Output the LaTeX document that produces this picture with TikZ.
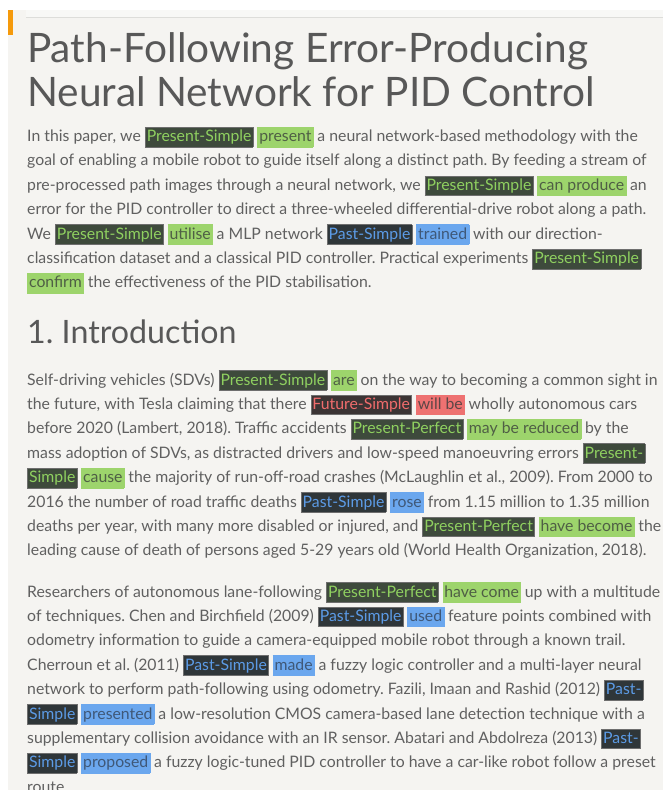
\documentclass[tikz,border=0pt]{standalone}
\usepackage{fontspec}
\setmainfont{Lato}
\frenchspacing
\definecolor{pagebg}{HTML}{F5F4F1}
\definecolor{stripbg}{HTML}{F8F8F6}
\definecolor{stripline}{HTML}{DDDDDA}
\definecolor{orangebar}{HTML}{F59A0C}
\definecolor{titlecol}{HTML}{585858}
\definecolor{bodycol}{HTML}{606060}
\definecolor{tagframe}{HTML}{6E6E6E}
\definecolor{tGfill}{HTML}{3E4A3C}
\definecolor{tGtext}{HTML}{8FD060}
\definecolor{vGfill}{HTML}{9DD46C}
\definecolor{vGtext}{HTML}{4F5F45}
\definecolor{tBfill}{HTML}{2F3639}
\definecolor{tBtext}{HTML}{5C9BE6}
\definecolor{vBfill}{HTML}{6BA7EE}
\definecolor{vBtext}{HTML}{3F5878}
\definecolor{tRfill}{HTML}{3B3434}
\definecolor{tRtext}{HTML}{F06C6C}
\definecolor{vRfill}{HTML}{EE7171}
\definecolor{vRtext}{HTML}{5E4646}
\newcommand\hlx[4]{{\setlength\fboxsep{1.2pt}\setlength\fboxrule{0.4pt}\fcolorbox{#1}{#2}{\kern0.3pt\textcolor{#3}{\rule[-3.8pt]{0pt}{17pt}#4}\kern0.3pt}}}
\newcommand\tg[1]{\hlx{tagframe}{tGfill}{tGtext}{#1}}
\newcommand\tb[1]{\hlx{tagframe}{tBfill}{tBtext}{#1}}
\newcommand\tr[1]{\hlx{tagframe}{tRfill}{tRtext}{#1}}
\newcommand\vg[1]{\hlx{vGfill}{vGfill}{vGtext}{#1}}
\newcommand\vb[1]{\hlx{vBfill}{vBfill}{vBtext}{#1}}
\newcommand\vr[1]{\hlx{vRfill}{vRfill}{vRtext}{#1}}
\tikzset{
  bodyline/.style={anchor=base west, inner sep=0pt, text=bodycol, font=\fontsize{15.8pt}{19pt}\selectfont},
  titleline/.style={anchor=base west, inner sep=0pt, text=titlecol, font=\fontsize{40.6pt}{48pt}\selectfont},
  headline/.style={anchor=base west, inner sep=0pt, text=titlecol, font=\fontsize{32.2pt}{38pt}\selectfont}
}
\begin{document}
\begin{tikzpicture}[x=1pt,y=-1pt]
\useasboundingbox (0,0) rectangle (663,790);
\clip (0,0) rectangle (663,790);
\fill[white] (0,0) rectangle (663,790);
\fill[pagebg] (8,10) rectangle (663,790);
\fill[stripbg] (26,10) rectangle (663,17);
\draw[stripline, line width=1pt] (26,17.5) -- (663,17.5);
\fill[orangebar] (8,10) rectangle (13,35);
\node[titleline] (t1) at (27,62) {Path-Following Error-Producing};
\node[titleline] (t2) at (27,106) {Neural Network for PID Control};
\node[bodyline] (a1) at (27,141.5) {In this paper, we \tg{Present-Simple} \vg{present} a neural network-based methodology with the};
\node[bodyline] (a2) at (27,165.9) {goal of enabling a mobile robot to guide itself along a distinct path. By feeding a stream of};
\node[bodyline] (a3) at (27,190.3) {pre-processed path images through a neural network, we \tg{Present-Simple} \vg{can produce} an};
\node[bodyline] (a4) at (27,214.7) {error for the PID controller to direct a three-wheeled differential-drive robot along a path.};
\node[bodyline] (a5) at (27,239.1) {We \tg{Present-Simple} \vg{utilise} a MLP network \tb{Past-Simple} \vb{trained} with our direction-};
\node[bodyline] (a6) at (27,263.5) {classification dataset and a classical PID controller. Practical experiments \tg{Present-Simple}};
\node[bodyline] (a7) at (27,287.9) {\vg{confirm} the effectiveness of the PID stabilisation.};
\node[headline] (h1) at (27,343) {1. Introduction};
\node[bodyline] (i1) at (27,385) {Self-driving vehicles (SDVs) \tg{Present-Simple} \vg{are} on the way to becoming a common sight in};
\node[bodyline] (i2) at (27,409.4) {the future, with Tesla claiming that there \tr{Future-Simple} \vr{will be} wholly autonomous cars};
\node[bodyline] (i3) at (27,433.8) {before 2020 (Lambert, 2018). Traffic accidents \tg{Present-Perfect} \vg{may be reduced} by the};
\node[bodyline] (i4) at (27,458.2) {mass adoption of SDVs, as distracted drivers and low-speed manoeuvring errors \tg{Present-}};
\node[bodyline] (i5) at (27,482.6) {\tg{Simple} \vg{cause} the majority of run-off-road crashes (McLaughlin et al., 2009). From 2000 to};
\node[bodyline] (i6) at (27,507) {2016 the number of road traffic deaths \tb{Past-Simple} \vb{rose} from 1.15 million to 1.35 million};
\node[bodyline] (i7) at (27,531.4) {deaths per year, with many more disabled or injured, and \tg{Present-Perfect} \vg{have become} the};
\node[bodyline] (i8) at (27,555.8) {leading cause of death of persons aged 5-29 years old (World Health Organization, 2018).};
\node[bodyline] (p1) at (27,597) {Researchers of autonomous lane-following \tg{Present-Perfect} \vg{have come} up with a multitude};
\node[bodyline] (p2) at (27,621.4) {of techniques. Chen and Birchfield (2009) \tb{Past-Simple} \vb{used} feature points combined with};
\node[bodyline] (p3) at (27,645.8) {odometry information to guide a camera-equipped mobile robot through a known trail.};
\node[bodyline] (p4) at (27,670.2) {Cherroun et al. (2011) \tb{Past-Simple} \vb{made} a fuzzy logic controller and a multi-layer neural};
\node[bodyline] (p5) at (27,694.6) {network to perform path-following using odometry. Fazili, Imaan and Rashid (2012) \tb{Past-}};
\node[bodyline] (p6) at (27,719) {\tb{Simple} \vb{presented} a low-resolution CMOS camera-based lane detection technique with a};
\node[bodyline] (p7) at (27,743.4) {supplementary collision avoidance with an IR sensor. Abatari and Abdolreza (2013) \tb{Past-}};
\node[bodyline] (p8) at (27,767.8) {\tb{Simple} \vb{proposed} a fuzzy logic-tuned PID controller to have a car-like robot follow a preset};
\node[bodyline] (p9) at (27,792.2) {route.};
\end{tikzpicture}
\end{document}
